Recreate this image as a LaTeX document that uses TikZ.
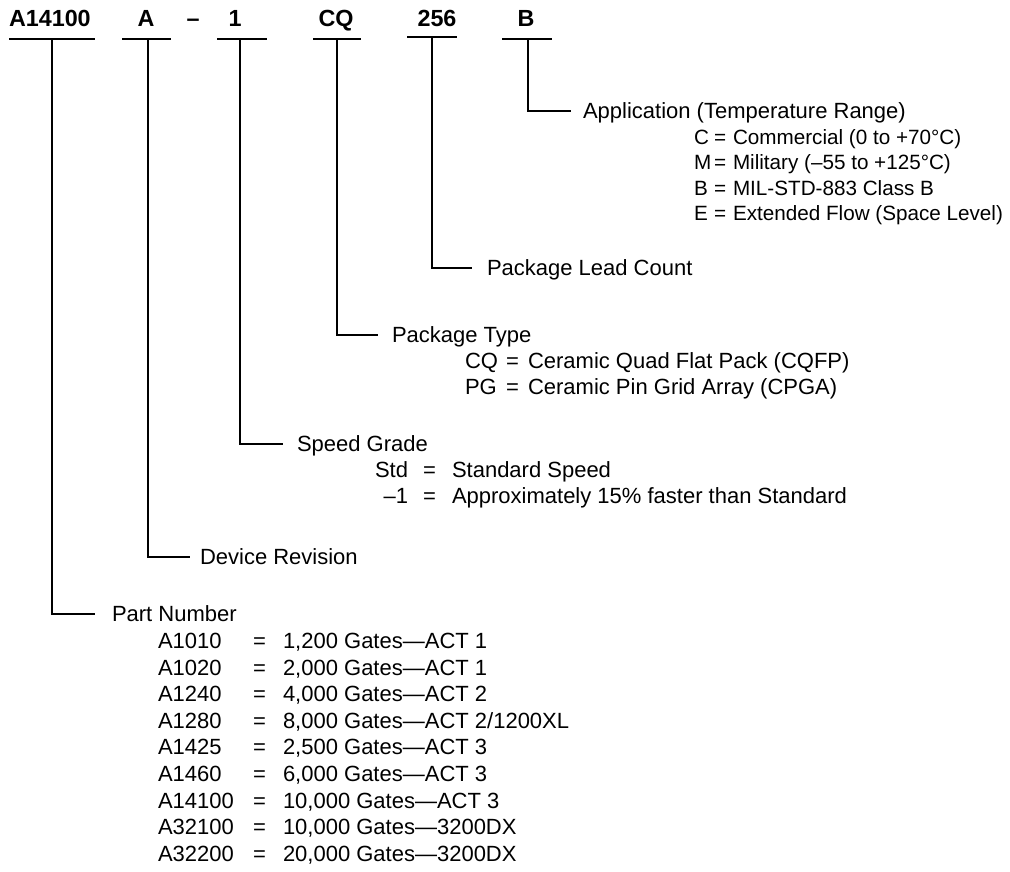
\documentclass[tikz,border=0pt]{standalone}
\usepackage{fontspec}
\setmainfont{Liberation Sans}
\begin{document}
\begin{tikzpicture}[x=0.75pt,y=-0.75pt,
  every node/.style={inner sep=0pt, outer sep=0pt},
  ln/.style={line width=1.4pt},
  toplbl/.style={font=\fontsize{17.5}{20}\selectfont\bfseries, anchor=base},
  hdr/.style={font=\fontsize{16.5}{20}\selectfont, anchor=west, text height=11.8pt, text depth=0pt},
  itm/.style={hdr},
  aitm/.style={font=\fontsize{15.5}{19}\selectfont, anchor=west, text height=11.1pt, text depth=0pt}]
\useasboundingbox (0,0) rectangle (1010,871);

% top part-number fields
\node[toplbl, anchor=base west] (tPN) at (9,26) {A14100};
\node[toplbl] (tA) at (146,26) {A};
\node[toplbl] (tdash) at (193,26) {–};
\node[toplbl] (t1) at (235,26) {1};
\node[toplbl] (tCQ) at (336,26) {CQ};
\node[toplbl] (t256) at (437,26) {256};
\node[toplbl] (tB) at (526,26) {B};

% underlines
\draw[ln] (9,39) -- (95,39);
\draw[ln] (122,39) -- (171,39);
\draw[ln] (217,39) -- (267,39);
\draw[ln] (313,39) -- (361,39);
\draw[ln] (407,37) -- (457,37);
\draw[ln] (502,39) -- (552,39);
\coordinate (uPN) at (52,39);
\coordinate (uA) at (148,39);
\coordinate (u1) at (240,39);
\coordinate (uCQ) at (337,39);
\coordinate (u256) at (432,37);
\coordinate (uB) at (528,39);

% headers
\node[hdr] (hB) at (583,111) {Application (Temperature Range)};
\node[hdr] (h256) at (487,268) {Package Lead Count};
\node[hdr] (hCQ) at (392,335) {Package Type};
\node[hdr] (h1) at (297,444) {Speed Grade};
\node[hdr] (hA) at (200,557) {Device Revision};
\node[hdr] (hPN) at (112,614) {Part Number};

% connectors
\draw[ln] (uB) |- ([xshift=-9pt]hB.west);
\draw[ln] (u256) |- ([xshift=-11.25pt]h256.west);
\draw[ln] (uCQ) |- ([xshift=-10.5pt]hCQ.west);
\draw[ln] (u1) |- ([xshift=-10.5pt]h1.west);
\draw[ln] (uA) |- ([xshift=-7.5pt]hA.west);
\draw[ln] (uPN) |- ([xshift=-12.75pt]hPN.west);

% application list
\foreach \k/\v [count=\i] in {C/Commercial (0 to +70°C), M/Military (–55 to +125°C), B/MIL-STD-883 Class B, E/Extended Flow (Space Level)} {
  \pgfmathsetmacro{\yy}{111.5+25.5*\i}
  \node[aitm] (ak\i) at (694,\yy) {\k};
  \node[aitm] (ae\i) at (714,\yy) {=};
  \node[aitm] (av\i) at (733,\yy) {\v};
}

% package type list
\node[itm] (pk1) at (465,361) {CQ};
\node[itm] (pe1) at (506,361) {=};
\node[itm] (pv1) at (528,361) {Ceramic Quad Flat Pack (CQFP)};
\node[itm] (pk2) at (465,387) {PG};
\node[itm] (pe2) at (506,387) {=};
\node[itm] (pv2) at (528,387) {Ceramic Pin Grid Array (CPGA)};

% speed grade list
\node[itm] (sk1) at (375,470) {Std};
\node[itm] (se1) at (423,470) {=};
\node[itm] (sv1) at (452,470) {Standard Speed};
\node[itm, anchor=east] (sk2) at (408,496) {–1};
\node[itm] (se2) at (423,496) {=};
\node[itm] (sv2) at (452,496) {Approximately 15\% faster than Standard};

% part number list
\foreach \k/\v [count=\i] in {A1010/{1,200 Gates—ACT 1}, A1020/{2,000 Gates—ACT 1}, A1240/{4,000 Gates—ACT 2}, A1280/{8,000 Gates—ACT 2/1200XL}, A1425/{2,500 Gates—ACT 3}, A1460/{6,000 Gates—ACT 3}, A14100/{10,000 Gates—ACT 3}, A32100/{10,000 Gates—3200DX}, A32200/{20,000 Gates—3200DX}} {
  \pgfmathsetmacro{\yy}{614+26.6*\i}
  \node[itm] (nk\i) at (158,\yy) {\k};
  \node[itm] (ne\i) at (253,\yy) {=};
  \node[itm] (nv\i) at (283,\yy) {\v};
}
\end{tikzpicture}
\end{document}
